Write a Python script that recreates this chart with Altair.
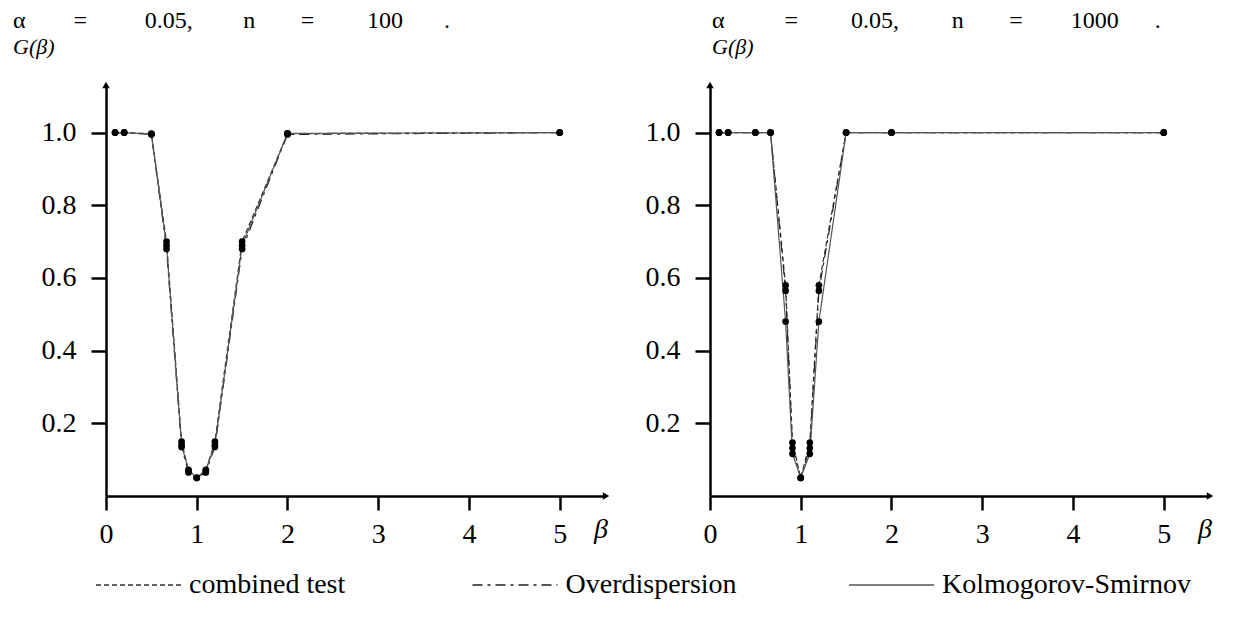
import altair as alt
import pandas as pd

# ---------------- data ----------------
SERIES = ["combined test", "Overdispersion", "Kolmogorov-Smirnov"]
BETA = [0.1, 0.2, 0.5, 0.667, 0.833, 0.909, 1.0, 1.1, 1.2, 1.5, 2.0, 5.0]

# n = 100
COMB_100 = [1.0, 1.0, 0.997, 0.70, 0.150, 0.070, 0.050, 0.070, 0.150, 0.70, 0.997, 1.0]
OVER_100 = [1.0, 1.0, 0.995, 0.68, 0.135, 0.065, 0.050, 0.065, 0.135, 0.68, 0.995, 1.0]
KS_100 = [1.0, 1.0, 0.996, 0.69, 0.140, 0.072, 0.050, 0.072, 0.140, 0.69, 0.998, 1.0]

# n = 1000
COMB_1000 = [1.0, 1.0, 1.0, 1.0, 0.580, 0.147, 0.050, 0.147, 0.580, 1.0, 1.0, 1.0]
OVER_1000 = [1.0, 1.0, 1.0, 1.0, 0.565, 0.132, 0.050, 0.132, 0.565, 1.0, 1.0, 1.0]
KS_1000 = [1.0, 1.0, 1.0, 1.0, 0.480, 0.116, 0.050, 0.116, 0.480, 1.0, 1.0, 1.0]

X_TICKS = [0, 1, 2, 3, 4, 5]
Y_TICKS = [0.2, 0.4, 0.6, 0.8, 1.0]
X_MAX = 5.51
Y_MAX = 1.131

EM, EN, TH = "\u2003", "\u2002", "\u2009"
TITLE_100 = ("α" + EM * 2 + "=" + EM * 2 + TH * 2 + "0.05," + EM + EN + TH * 3 + "n"
             + EM + EN + TH * 2 + "=" + EM * 2 + TH + "100" + EM + EN + TH + ".")
TITLE_1000 = ("α" + EM * 2 + EN + "=" + EM * 2 + TH + "0.05," + EM * 2 + TH + "n"
              + EM + EN + TH * 2 + "=" + EM * 2 + "1000" + EM + EN + ".")
Y_LABEL = "G(β)"
X_LABEL = "β"

# ---------------- styling ----------------
FONT = "Liberation Serif, Liberation Sans, sans-serif"
FS = 28
TFS = 24
GFS = 22
W, H = 500, 411
DASHES = [[5, 3], [10, 5, 3, 5], [1, 0]]
COLORS = ["#333333", "#222222", "#555555"]


def long_df(series_values):
    rows = []
    for name, vals in zip(SERIES, series_values):
        for b, v in zip(BETA, vals):
            rows.append({"beta": b, "G": v, "series": name})
    return pd.DataFrame(rows)


def panel(df, title, title_x):
    x = alt.X(
        "beta:Q",
        scale=alt.Scale(domain=[0, X_MAX], nice=False, zero=True),
        axis=alt.Axis(values=X_TICKS, format="d", title=None, grid=False,
                      domainColor="black", domainWidth=2.5, tickColor="black",
                      tickWidth=2.5, tickSize=14, labelFont=FONT, labelFontSize=FS,
                      labelColor="black", labelPadding=10, labelFlush=False),
    )
    y = alt.Y(
        "G:Q",
        scale=alt.Scale(domain=[0, Y_MAX], nice=False, zero=True),
        axis=alt.Axis(values=Y_TICKS, format=".1f", title=None, grid=False,
                      domainColor="black", domainWidth=2.5, tickColor="black",
                      tickWidth=2.5, tickSize=15, labelFont=FONT, labelFontSize=FS,
                      labelColor="black", labelPadding=15, labelFlush=False),
    )
    base = alt.Chart(df)
    lines = base.mark_line(strokeWidth=1.2).encode(
        x=x, y=y,
        strokeDash=alt.StrokeDash("series:N", scale=alt.Scale(domain=SERIES, range=DASHES), legend=None),
        color=alt.Color("series:N", scale=alt.Scale(domain=SERIES, range=COLORS), legend=None),
        detail="series:N",
    )
    pts = base.mark_circle(size=45, color="black", opacity=1).encode(x=x, y=y)

    arrows = alt.Chart(pd.DataFrame({
        "beta": [X_MAX, 0.0], "G": [0.0, Y_MAX], "shape": ["triangle-right", "triangle-up"]
    })).mark_point(filled=True, size=55, color="black", opacity=1).encode(
        x=x, y=y, shape=alt.Shape("shape:N", scale=None)
    )

    title_txt = alt.Chart(pd.DataFrame({"t": [title]})).mark_text(
        align="left", baseline="middle", font=FONT, fontSize=TFS, color="black",
        x=title_x, y=-64
    ).encode(text="t:N")
    ylab = alt.Chart(pd.DataFrame({"t": [Y_LABEL]})).mark_text(
        align="left", baseline="middle", font=FONT, fontSize=GFS, fontStyle="italic",
        color="black", x=title_x, y=-38
    ).encode(text="t:N")
    xlab = alt.Chart(pd.DataFrame({"t": [X_LABEL]})).mark_text(
        align="center", baseline="middle", font=FONT, fontSize=FS, fontStyle="italic",
        color="black", x=495, y=445
    ).encode(text="t:N")

    return alt.layer(lines, pts, arrows, title_txt, ylab, xlab).properties(width=W, height=H)


left = panel(long_df([COMB_100, OVER_100, KS_100]), TITLE_100, -93)
right = panel(long_df([COMB_1000, OVER_1000, KS_1000]), TITLE_1000, 2)

# ---------------- legend row ----------------
leg_df = pd.DataFrame({"series": SERIES})
lx = alt.X("series:N", scale=alt.Scale(type="point", domain=SERIES, range=[-10, 743], padding=0), axis=None)
leg_rules = alt.Chart(leg_df).mark_rule(strokeWidth=1.3, x2Offset=85).encode(
    x=lx, x2=alt.X2("series:N"), y=alt.value(10),
    strokeDash=alt.StrokeDash("series:N", scale=alt.Scale(domain=SERIES, range=DASHES), legend=None),
    color=alt.Color("series:N", scale=alt.Scale(domain=SERIES, range=COLORS), legend=None),
)
leg_text = alt.Chart(leg_df).mark_text(
    align="left", baseline="middle", dx=93, font=FONT, fontSize=FS, color="black"
).encode(x=lx, y=alt.value(10), text="series:N")
legend = alt.layer(leg_rules, leg_text).properties(width=740, height=20)

chart = alt.vconcat(
    alt.hconcat(left, right, spacing=34),
    legend,
    spacing=21,
).properties(
    padding={"left": 4, "top": 0, "right": 0, "bottom": 5}
).configure_view(stroke="transparent")

chart.save("out.html", embed_options={"renderer": "svg", "actions": False})
